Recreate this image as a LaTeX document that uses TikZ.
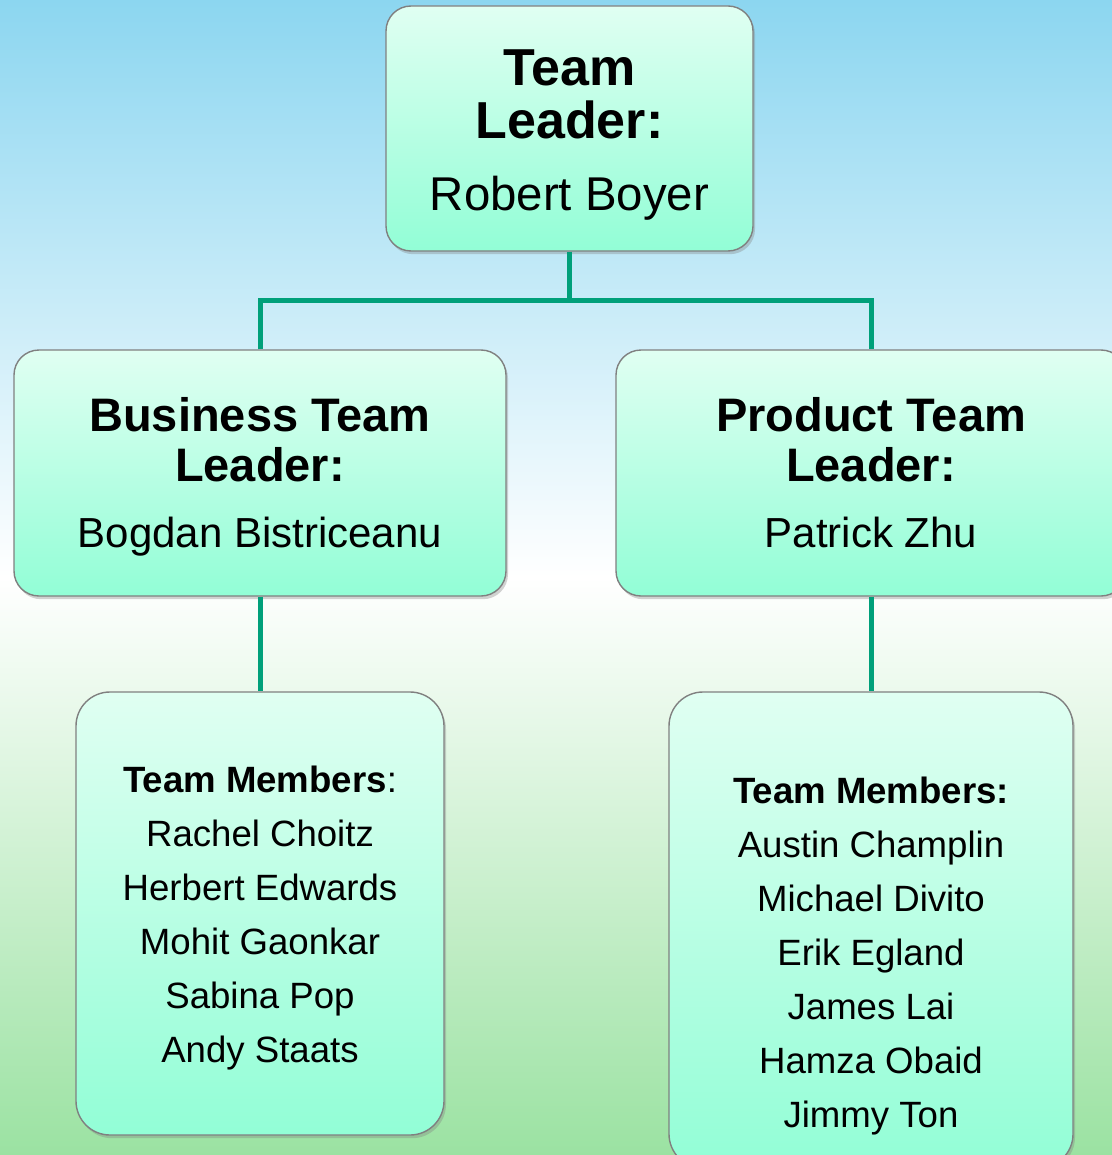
\documentclass[tikz,border=0pt]{standalone}
\usepackage{fontspec}
\setmainfont{Liberation Sans}
\usetikzlibrary{shadows}

\definecolor{skytop}{RGB}{140,214,240}
\definecolor{meadow}{RGB}{155,226,162}
\definecolor{boxtop}{RGB}{224,255,242}
\definecolor{boxbot}{RGB}{146,254,214}
\definecolor{linkgreen}{RGB}{0,160,122}

\tikzset{
  orgbox/.style={draw={rgb,255:red,128;green,128;blue,128}, line width=0.7pt,
    top color=boxtop, bottom color=boxbot, align=center, inner sep=0pt,
    drop shadow={shadow xshift=1pt, shadow yshift=-1.6pt, opacity=0.35}},
  link/.style={draw=linkgreen, line width=2.5pt}
}

\begin{document}
\begin{tikzpicture}[x=0.5pt,y=0.5pt,yscale=-1,xscale=1]
\useasboundingbox (0,0) rectangle (1112,1155);

%Shape: Background
\shade [top color=skytop, bottom color=meadow, middle color=white] (0,0) rectangle (1112,1155);

%Shape: Team leader
\node [orgbox, rounded corners=12.5pt, minimum width=183.5pt, minimum height=122.5pt,
  font=\bfseries\fontsize{26}{26.5}\selectfont] (lead) at (569.5,128.5)
  {\rule{0pt}{24pt}Team\\ Leader:\\[9.5pt] \mdseries\fontsize{23.7}{28}\selectfont Robert Boyer};

%Shape: Business team leader
\node [orgbox, rounded corners=12.5pt, minimum width=246pt, minimum height=123pt,
  font=\bfseries\fontsize{23.5}{25}\selectfont] (bizlead) at (260,473)
  {\rule{0pt}{21pt}Business Team\\ Leader:\\[8pt] \mdseries\fontsize{21}{25}\selectfont Bogdan Bistriceanu};

%Shape: Product team leader
\node [orgbox, rounded corners=12.5pt, minimum width=255pt, minimum height=123pt,
  font=\bfseries\fontsize{23.5}{25}\selectfont] (prodlead) at (871,473)
  {Product Team\\ Leader:\\[8pt] \mdseries\fontsize{21}{25}\selectfont Patrick Zhu};

%Shape: Business team members
\node [orgbox, rounded corners=17pt, minimum width=184pt, minimum height=221.5pt,
  font=\fontsize{18.3}{27}\selectfont] (bizmem) at (260,913.5)
  {\rule{0pt}{17.3pt}\textbf{Team Members}:\\ Rachel Choitz\\ Herbert Edwards\\ Mohit Gaonkar\\ Sabina Pop\\ Andy Staats};

%Shape: Product team members
\node [orgbox, rounded corners=17pt, minimum width=202pt, minimum height=238pt,
  font=\fontsize{18.3}{27}\selectfont] (prodmem) at (871,930)
  {\mbox{}\\[12.4pt] \textbf{Team Members:}\\ Austin Champlin\\ Michael Divito\\ Erik Egland\\
   James Lai\\ Hamza Obaid\\ Jimmy Ton};

%Straight Lines
\coordinate (split) at (569.5,300);
\draw [link] (lead.south) -- (split);
\draw [link] (bizlead.north) |- (split) -| (prodlead.north);
\draw [link] (bizlead.south) -- (bizmem.north);
\draw [link] (prodlead.south) -- (prodmem.north);

\end{tikzpicture}
\end{document}
